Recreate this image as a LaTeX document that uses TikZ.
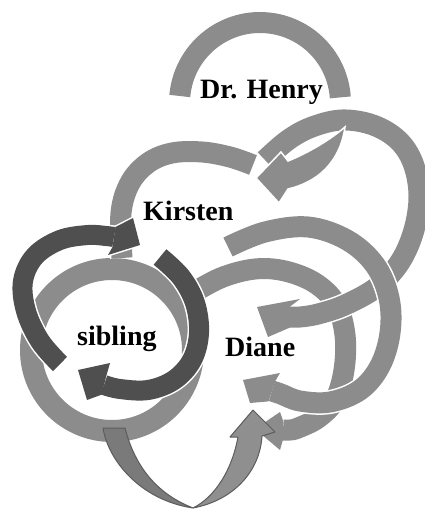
\documentclass[tikz,border=0pt]{standalone}
\usepackage{fontspec}
\setmainfont{Liberation Serif}
\definecolor{bandgray}{HTML}{8C8C8C}
\definecolor{banddark}{HTML}{4F4F4F}
\definecolor{ugrayA}{HTML}{7A7A7A}
\definecolor{ugrayB}{HTML}{8F8F8F}
\definecolor{uedge}{HTML}{5C5C5C}
% #1 band style, #2 white style, #3 colour of head, #4 band points, #5 head polygon
\newcommand\myarrowband[5]{%
  \draw[#2] plot[smooth,tension=0.6] coordinates {#4};
  \draw[white,line width=3pt,line join=miter] #5 -- cycle;
  \fill[#3] #5 -- cycle;
  \draw[#1] plot[smooth,tension=0.6] coordinates {#4};}
\newcommand\myplainband[3]{%
  \draw[#2] plot[smooth,tension=0.6] coordinates {#3};
  \draw[#1] plot[smooth,tension=0.6] coordinates {#3};}
\begin{document}
\begin{tikzpicture}[x=1pt,y=-1pt,
  wband/.style={draw=white,line width=24pt},
  wdband/.style={draw=white,line width=23pt},
  gband/.style={draw=bandgray,line width=21pt},
  dband/.style={draw=banddark,line width=20pt},
  lbl/.style={font=\fontsize{28}{30}\selectfont\bfseries, anchor=base west, inner sep=0pt, text=black}]
\useasboundingbox (0,0) rectangle (425,516);
\fill[white] (0,0) rectangle (425,516);

% ring around sibling
\draw[white,line width=25pt] (112,350) circle[radius=81];
\draw[bandgray,line width=22pt] (112,350) circle[radius=81];

% Kirsten arc
\myplainband{gband}{wband}{(122,258) (121,213) (130,183) (148,163) (172,153) (202,152) (230,157) (253,165)}

% inner Diane ring
\myarrowband{gband}{wband}{bandgray}{(196,291) (223,277) (255,269) (285,271) (315,283) (336,304) (345,335) (344,370) (335,400) (318,418) (298,428) (290,430) (283,430)}{(283,420.5) -- (280,412) -- (255,429) -- (280,450) -- (283,439.5)}

% big loop from Dr. Henry to Diane
\myarrowband{gband}{wband}{bandgray}{(265,160) (288,140) (312,127) (342,120) (373,125) (398,140) (413,163) (419,195) (414,230) (400,262) (377,287) (345,305) (318,314) (300,317) (289,317)}{(290,306.5) -- (300,299) -- (257,307) -- (268,337) -- (290,327.5)}

% crescent arrow into Kirsten
\draw[white,line width=1.5pt,fill=bandgray] (345,127) .. controls (330,140) and (308,153) .. (288,161) -- (281,152) -- (256,178) -- (279,203) -- (288,189) .. controls (318,182) and (340,162) .. cycle;

% outer Diane ring
\myarrowband{gband}{wband}{bandgray}{(228,247) (265,232) (308,227) (347,240) (375,265) (389,298) (390,333) (380,366) (360,390) (330,402) (300,401) (281,394) (272,391)}{(275.5,380.6) -- (280,373) -- (243,380) -- (250,403) -- (268.5,401.4)}

% Dr. Henry arc
\draw[wband] (179.8,96.0) arc[start angle=185,end angle=356,radius=80.5];
\draw[gband] (179.8,96.0) arc[start angle=185,end angle=356,radius=80.5];

% dark arrows around sibling
\myarrowband{dband}{wdband}{banddark}{(60,364) (40,341) (26,311) (23,281) (35,256) (60,240) (88,235) (106,236) (114,237)}{(115.5,227) -- (133,218) -- (140,245) -- (108,255) -- (112.5,247)}
\myarrowband{dband}{wdband}{banddark}{(160,257) (181,277) (195,303) (199,333) (192,360) (174,380) (148,390) (120,389) (104,385)}{(106.5,375.3) -- (110,363) -- (78,370) -- (87,400) -- (101.5,394.7)}

% bottom U arrow
\draw[uedge,fill=ugrayA,line width=1pt,line join=round] (103,428) .. controls (108,460) and (140,500) .. (193,508) .. controls (165,497) and (137,475) .. (125,428) -- cycle;
\draw[uedge,fill=ugrayB,line width=1pt,line join=round] (193,508) .. controls (235,500) and (260,470) .. (262,436) -- (275,432) -- (253,410) -- (230,437) -- (238,437) .. controls (232,470) and (215,497) .. cycle;

% labels
\node[lbl] (drhenry) at (200,99) {Dr. Henry};
\node[lbl] (kirsten) at (143,220) {Kirsten};
\node[lbl] (sibling) at (77,345) {sibling};
\node[lbl] (diane) at (225,356) {Diane};
\end{tikzpicture}
\end{document}
